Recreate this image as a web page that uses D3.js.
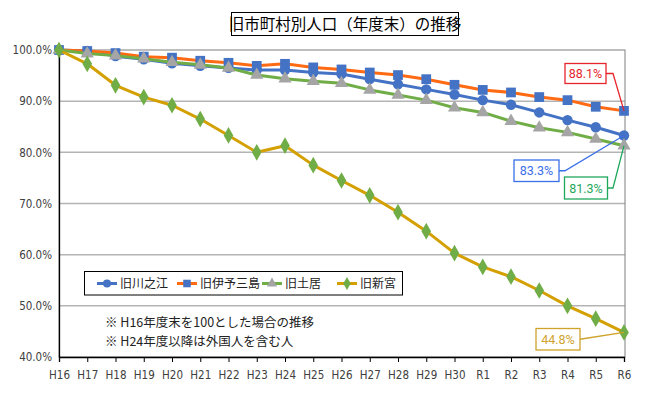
<!DOCTYPE html>
<html>
<head>
<meta charset="utf-8">
<title>旧市町村別人口（年度末）の推移</title>
<script src="https://d3js.org/d3.v7.min.js"></script>
<style>
  body { margin: 0; background: #fff; }
  svg { display: block; }
  .jp { font-family: "Noto Sans CJK JP", sans-serif; }
  .tick { font-family: "Liberation Sans Narrow", "DejaVu Sans Condensed", "Noto Sans CJK JP", sans-serif; font-size: 11.5px; fill: #404040; }
</style>
</head>
<body>
<svg width="650" height="393"></svg>
<script>
// --- Daten ---
const categories = ["H16","H17","H18","H19","H20","H21","H22","H23","H24","H25","H26","H27","H28","H29","H30","R1","R2","R3","R4","R5","R6"];
const seriesNames = ["旧川之江","旧伊予三島","旧土居","旧新宮"];
const kawanoe    = [100, 99.8, 98.8, 98.2, 97.4, 96.9, 96.5, 96.1, 96.1, 95.6, 95.3, 94.3, 93.3, 92.3, 91.3, 90.2, 89.3, 87.8, 86.3, 84.9, 83.3];
const iyomishima = [100, 99.8, 99.4, 98.7, 98.5, 97.9, 97.5, 96.9, 97.3, 96.6, 96.2, 95.6, 95.1, 94.3, 93.2, 92.2, 91.7, 90.8, 90.2, 88.9, 88.1];
const doi        = [100, 99.3, 98.9, 98.3, 97.6, 97.1, 96.5, 95.1, 94.4, 93.9, 93.5, 92.2, 91.2, 90.2, 88.7, 87.8, 86.1, 84.8, 83.9, 82.6, 81.3];
const shingu     = [100, 97.3, 93.1, 90.8, 89.2, 86.5, 83.3, 80.0, 81.3, 77.5, 74.5, 71.6, 68.3, 64.6, 60.3, 57.6, 55.7, 53.0, 50.0, 47.5, 44.8];
const yTicks = [40, 50, 60, 70, 80, 90, 100];
const notes = ["※  H16年度末を100とした場合の推移", "※  H24年度以降は外国人を含む人"];

// Stil je Reihe (Linie, Marker)
const styles = [
  {line:"#4472C4", mark:"#4472C4", shape:"circle"},
  {line:"#FF6A13", mark:"#4472C4", shape:"square"},
  {line:"#70AD47", mark:"#A5A5A5", shape:"triangle"},
  {line:"#D4A000", mark:"#70AD47", shape:"diamond"}
];
const allSeries = [kawanoe, iyomishima, doi, shingu];

const svg = d3.select("svg");
const x = d3.scalePoint().domain(categories).range([59, 624]);
const y = d3.scaleLinear().domain([40, 100]).range([357, 50]);

// Gitter
svg.append("g").selectAll("line").data(yTicks.filter(d => d > 40 && d < 100)).join("line")
  .attr("x1", 59).attr("x2", 625)
  .attr("y1", d => y(d)).attr("y2", d => y(d))
  .attr("stroke", "#b4b4b4").attr("stroke-width", 1.5);
svg.append("rect").attr("x", 59).attr("y", y(100)).attr("width", 566).attr("height", y(40) - y(100))
  .attr("fill", "none").attr("stroke", "#7f7f7f").attr("stroke-width", 1);

// Achsen
const xAxis = svg.append("g").attr("transform", `translate(0,${y(40)})`)
  .call(d3.axisBottom(x).tickSize(5).tickPadding(8));
xAxis.select(".domain").attr("stroke", "#000").attr("stroke-width", 1.3);
xAxis.selectAll(".tick line").attr("stroke", "#000");
xAxis.selectAll("text").attr("class", "tick").attr("dy", "0.8em");

const yAxis = svg.append("g").attr("transform", "translate(59,0)")
  .call(d3.axisLeft(y).tickValues(yTicks).tickSize(0).tickPadding(7).tickFormat(d => d.toFixed(1) + "%"));
yAxis.select(".domain").attr("stroke", "#000").attr("stroke-width", 1.3);
yAxis.selectAll("text").attr("class", "tick");

// Symbole
function symbolFor(shape, size) {
  const t = {circle: d3.symbolCircle, square: d3.symbolSquare, triangle: d3.symbolTriangle, diamond: d3.symbolDiamond}[shape];
  return d3.symbol().type(t).size(size)();
}
const sizes = {circle: 85, square: 95, triangle: 75, diamond: 80};

const line = d3.line().x((d, i) => x(categories[i])).y(d => y(d));
allSeries.forEach((vals, s) => {
  const st = styles[s];
  svg.append("path").datum(vals).attr("d", line)
    .attr("fill", "none").attr("stroke", st.line).attr("stroke-width", 3).attr("stroke-linejoin", "round");
  svg.append("g").selectAll("path").data(vals).join("path")
    .attr("transform", (d, i) => `translate(${x(categories[i])},${y(d)})`)
    .attr("d", symbolFor(st.shape, sizes[st.shape]))
    .attr("fill", st.mark);
});

// Titel
svg.append("rect").attr("x", 231.5).attr("y", 12.5).attr("width", 227).attr("height", 23)
  .attr("fill", "#fff").attr("stroke", "#000").attr("stroke-width", 1);
svg.append("text").attr("class", "jp").attr("x", 345).attr("y", 29.5).attr("text-anchor", "middle")
  .attr("font-size", 15.5).attr("fill", "#000").text("旧市町村別人口（年度末）の推移");

// Legende
svg.append("rect").attr("x", 84.5).attr("y", 271.5).attr("width", 318).attr("height", 23.5)
  .attr("fill", "#fff").attr("stroke", "#000").attr("stroke-width", 1);
const legX = [97, 177, 262, 337];
seriesNames.forEach((name, s) => {
  const st = styles[s], lx = legX[s], ly = 283.5;
  svg.append("line").attr("x1", lx).attr("x2", lx + 20).attr("y1", ly).attr("y2", ly)
    .attr("stroke", st.line).attr("stroke-width", 3);
  svg.append("path").attr("transform", `translate(${lx + 10},${ly})`)
    .attr("d", symbolFor(st.shape, sizes[st.shape] * 0.6)).attr("fill", st.mark);
  svg.append("text").attr("class", "jp").attr("x", lx + 23).attr("y", ly + 4.5)
    .attr("font-size", 12).attr("fill", "#222").text(name);
});

// Hinweise
notes.forEach((t, i) => {
  svg.append("text").attr("class", "jp").attr("x", 105).attr("y", 327 + i * 19)
    .attr("font-size", 12.5).attr("fill", "#222").text(t);
});

// Beschriftungen am Ende (Position des Kastens, Knickpunkt)
const last = categories.length - 1;
const callouts = [
  {s: 1, color: "#E8242C", box: [565, 63.5, 41, 20], elbow: 613},
  {s: 0, color: "#3A6FE8", box: [514, 160, 45, 21.5], elbow: 565},
  {s: 2, color: "#1FA85A", box: [564.5, 177, 43, 22], elbow: 613},
  {s: 3, color: "#CFA22B", box: [536, 328.5, 44, 21.5], elbow: null}
];
callouts.forEach(c => {
  const v = allSeries[c.s][last];
  const px = x(categories[last]), py = y(v);
  const [bx, by, bw, bh] = c.box, my = by + bh / 2;
  const pts = c.elbow ? [[bx + bw, my], [c.elbow, my], [px, py]] : [[bx + bw, my], [px, py]];
  svg.append("path").attr("d", d3.line()(pts)).attr("fill", "none").attr("stroke", c.color).attr("stroke-width", 1.3);
  svg.append("rect").attr("x", bx).attr("y", by).attr("width", bw).attr("height", bh)
    .attr("fill", "#fff").attr("stroke", c.color).attr("stroke-width", 1.3);
  svg.append("text").attr("x", bx + bw / 2).attr("y", my + 4.5).attr("text-anchor", "middle")
    .attr("font-family", "Roboto, sans-serif").attr("font-size", 12.5).attr("fill", c.color)
    .text(v.toFixed(1) + "%");
});
</script>
</body>
</html>
